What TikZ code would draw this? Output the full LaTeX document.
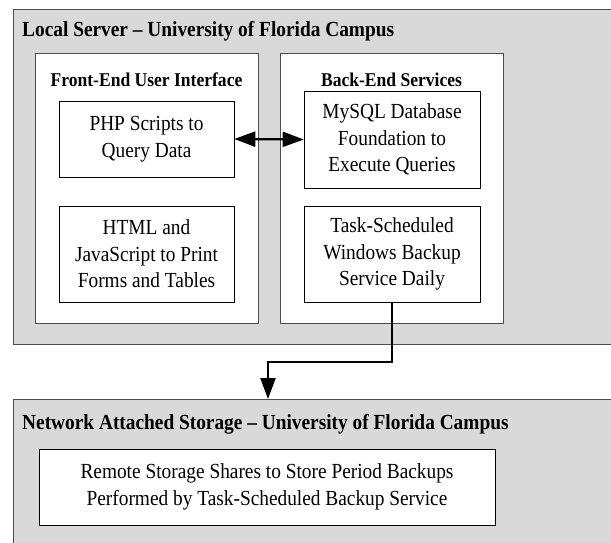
\documentclass[tikz,border=0pt]{standalone}
\usepackage{fontspec}
\setmainfont[FakeStretch=0.9]{Liberation Serif}
\usetikzlibrary{arrows.meta}
\begin{document}
\begin{tikzpicture}[x=1pt,y=-1pt,
  outer/.style={draw=black!70,fill=black!15,line width=0.8pt},
  inner/.style={draw=black!70,fill=white,line width=0.8pt},
  item/.style={draw=black,fill=white,line width=0.6pt,align=center,font=\fontsize{21.5}{26.5}\selectfont,inner sep=0pt},
  ttl/.style={font=\bfseries\fontsize{21.5}{24}\selectfont,inner sep=0pt},
  sub/.style={font=\bfseries\fontsize{19.5}{22}\selectfont,inner sep=0pt},
  conn/.style={line width=2.3pt,-{Triangle[length=21pt,width=15pt]}}]
\useasboundingbox (0,0) rectangle (611,543);
% outer containers
\path[outer] (13,9) rectangle (620,344);
\path[outer] (13,399) rectangle (620,550);
\node[ttl,anchor=west] (t1) at (22,31) {Local Server -- University of Florida Campus};
\node[ttl,anchor=west] (t2) at (22,424) {Network Attached Storage -- University of Florida Campus};
% inner panels
\path[inner] (35,53) rectangle (258,323);
\path[inner] (280,53) rectangle (503,323);
\node[sub] (fe) at (146.5,80) {Front-End User Interface};
\node[sub] (be) at (391.5,80) {Back-End Services};
% items
\node[item,minimum width=175pt,minimum height=76pt] (php) at (146.5,139) {PHP Scripts to\\Query Data};
\node[item,minimum width=176pt,minimum height=97pt] (mysql) at (392,139.5) {MySQL Database\\Foundation to\\Execute Queries};
\node[item,minimum width=175pt,minimum height=96pt] (html) at (146.5,254) {HTML and\\JavaScript to Print\\Forms and Tables};
\node[item,minimum width=176pt,minimum height=96pt] (task) at (392,254) {Task-Scheduled\\Windows Backup\\Service Daily};
\node[item,minimum width=456pt,minimum height=76pt] (nas) at (267,487) {Remote Storage Shares to Store Period Backups\\Performed by Task-Scheduled Backup Service};
% connectors
\draw[line width=2.3pt,{Triangle[length=21pt,width=15pt]}-{Triangle[length=21pt,width=15pt]}] (php.east) -- (mysql.west);
\coordinate (nastop) at (268,399);
\draw[conn] (task.south) |- (268,362) -- (nastop);
\end{tikzpicture}
\end{document}
